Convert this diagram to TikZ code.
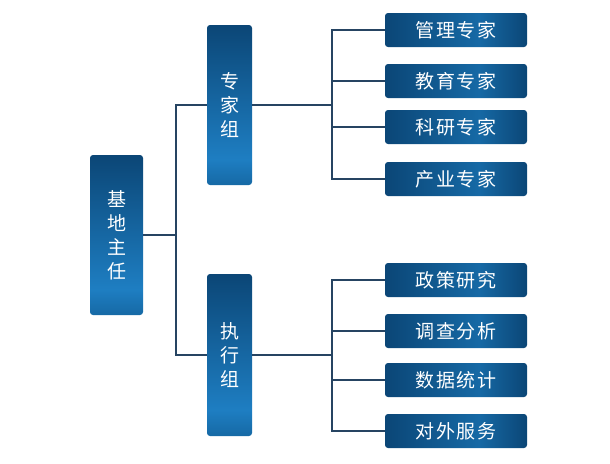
\documentclass[tikz,border=0pt]{standalone}
\usepackage{fontspec}
\newfontfamily\cjk[LetterSpace=8]{Noto Sans CJK SC}
\usetikzlibrary{positioning}
\definecolor{boxdark}{RGB}{11, 70, 118}
\definecolor{boxmid}{RGB}{22, 105, 165}
\definecolor{boxlight}{RGB}{30, 126, 194}
\definecolor{linkblue}{RGB}{38, 68, 98}
\pgfdeclareverticalshading{tallshade}{100bp}{color(0bp)=(boxdark); color(25bp)=(boxmid); color(33bp)=(boxlight); color(75bp)=(boxdark); color(100bp)=(boxdark)}
\pgfdeclarehorizontalshading{wideshade}{100bp}{color(0bp)=(boxdark); color(25bp)=(boxdark); color(58bp)=(boxmid); color(75bp)=(boxdark); color(100bp)=(boxdark)}
\tikzset{
  tallbox/.style={shading=tallshade, rounded corners=3pt, text=white, align=center,
    font=\cjk\fontsize{19}{24}\selectfont, inner sep=0pt},
  widebox/.style={shading=wideshade, rounded corners=3pt, text=white,
    minimum width=142pt, minimum height=34pt, inner sep=0pt,
    font=\cjk\fontsize{19}{24}\selectfont},
  link/.style={draw=linkblue, line width=1.1pt}
}

\begin{document}
\begin{tikzpicture}[x=1pt, y=-1pt]
  \useasboundingbox (0,0) rectangle (610,463);

  % left column
  \node[tallbox, minimum width=53pt, minimum height=160pt] (director) at (116.5,235) {基\\地\\主\\任};
  \node[tallbox, minimum width=45pt, minimum height=160pt] (experts) at (229.5,105) {专\\家\\组};
  \node[tallbox, minimum width=45pt, minimum height=162pt] (exec) at (229.5,355) {执\\行\\组};

  % right column
  \foreach \name/\ypos/\txt in {mgmt/30/管理专家, edu/81/教育专家, sci/127/科研专家, ind/179/产业专家,
                                policy/280/政策研究, survey/331/调查分析, stats/380/数据统计, service/431/对外服务}
    \node[widebox] (\name) at (456,\ypos) {\txt};

  \coordinate (trunk) at (176,235);
  \coordinate (busA) at (332,105);
  \coordinate (busB) at (332,355);

  \draw[link] (director.east) -- (trunk);
  \draw[link] (experts.west) -| (trunk) |- (exec.west);
  \draw[link] (experts.east) -- (busA);
  \draw[link] (exec.east) -- (busB);
  \foreach \name in {mgmt, edu, sci, ind}
    \draw[link] (busA) |- (\name.west);
  \foreach \name in {policy, survey, stats, service}
    \draw[link] (busB) |- (\name.west);
\end{tikzpicture}
\end{document}
